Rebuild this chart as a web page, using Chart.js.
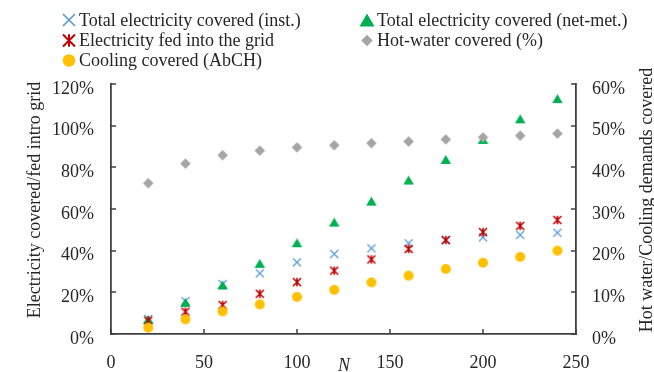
<!DOCTYPE html>
<html>
<head>
<meta charset="utf-8">
<script src="https://cdn.jsdelivr.net/npm/chart.js@4.4.1/dist/chart.umd.min.js"></script>
<style>
  html, body { margin: 0; padding: 0; background: #ffffff; }
  #wrap { width: 654px; height: 372px; }
</style>
</head>
<body>
<div id="wrap"><canvas id="chart" width="654" height="372"></canvas></div>
<script>
// Number of units N
const nValues = [20, 40, 60, 80, 100, 120, 140, 160, 180, 200, 220, 240];

// Left axis series (% of electricity)
const elecCoveredInst   = [7.2, 15.8, 24.0, 29.1, 34.4, 38.4, 41.1, 43.5, 45.0, 46.4, 47.6, 48.6];
const elecCoveredNetMet = [7.0, 15.2, 23.5, 33.9, 43.8, 53.7, 63.8, 73.9, 83.8, 93.4, 103.3, 113.0];
const elecFedToGrid     = [6.4, 10.7, 13.9, 19.3, 24.9, 30.4, 35.8, 40.8, 45.1, 48.9, 51.9, 54.7];

// Right axis series (% of thermal demand)
const hotWaterCovered = [36.2, 40.9, 42.9, 44.0, 44.8, 45.3, 45.8, 46.2, 46.7, 47.2, 47.6, 48.1];
const coolingCovered  = [1.5, 3.5, 5.4, 7.1, 8.9, 10.6, 12.4, 14.0, 15.6, 17.1, 18.5, 20.0];

// Series names
const seriesNames = [
  'Total electricity covered (inst.)',
  'Total electricity covered (net-met.)',
  'Electricity fed into the grid',
  'Hot-water covered (%)',
  'Cooling covered (AbCH)'
];

// Axis ticks and titles
const xTicks = [0, 50, 100, 150, 200, 250];
const leftTicks = [0, 20, 40, 60, 80, 100, 120];
const rightTicks = [0, 10, 20, 30, 40, 50, 60];
const xTitle = 'N';
const leftTitle = 'Electricity covered/fed intro grid';
const rightTitle = 'Hot water/Cooling demands covered';

const FONT = '"Liberation Serif", "Times New Roman", serif';
const TEXT = '#262626';
const AXIS = '#404040';

const COLORS = {
  inst: '#5B9BD5',
  net: '#00B050',
  fed: '#C00000',
  hot: '#A5A5A5',
  cool: '#FFC000'
};

// Marker shapes shared by plot and legend
function drawMarker(ctx, kind, cx, cy, size, color) {
  const h = size / 2;
  ctx.save();
  ctx.strokeStyle = color;
  ctx.fillStyle = color;
  ctx.lineCap = 'butt';
  ctx.beginPath();
  if (kind === 'x') {
    ctx.lineWidth = Math.max(1.3, size / 7);
    ctx.moveTo(cx - h, cy - h); ctx.lineTo(cx + h, cy + h);
    ctx.moveTo(cx + h, cy - h); ctx.lineTo(cx - h, cy + h);
    ctx.stroke();
  } else if (kind === 'star') {
    ctx.lineWidth = Math.max(1.6, size / 6);
    ctx.moveTo(cx - h, cy - h); ctx.lineTo(cx + h, cy + h);
    ctx.moveTo(cx + h, cy - h); ctx.lineTo(cx - h, cy + h);
    ctx.moveTo(cx, cy - h * 1.05); ctx.lineTo(cx, cy + h * 1.05);
    ctx.stroke();
  } else if (kind === 'tri') {
    const th = size * 0.88;
    ctx.moveTo(cx, cy - th / 2);
    ctx.lineTo(cx + h, cy + th / 2);
    ctx.lineTo(cx - h, cy + th / 2);
    ctx.closePath();
    ctx.fill();
  } else if (kind === 'diamond') {
    ctx.moveTo(cx, cy - h);
    ctx.lineTo(cx + h, cy);
    ctx.lineTo(cx, cy + h);
    ctx.lineTo(cx - h, cy);
    ctx.closePath();
    ctx.fill();
  } else if (kind === 'circle') {
    ctx.arc(cx, cy, h, 0, Math.PI * 2);
    ctx.fill();
  }
  ctx.restore();
}

function markerImage(kind, size, color) {
  const s = Math.ceil(size) + 6;
  const c = document.createElement('canvas');
  c.width = s; c.height = s;
  drawMarker(c.getContext('2d'), kind, s / 2, s / 2, size, color);
  return c;
}

function toPoints(ys) {
  return nValues.map((x, i) => ({ x: x, y: ys[i] }));
}

const seriesDefs = [
  { name: seriesNames[0], data: elecCoveredInst,   axis: 'y',  kind: 'x',       color: COLORS.inst, size: 8,    legendSize: 12 },
  { name: seriesNames[1], data: elecCoveredNetMet, axis: 'y',  kind: 'tri',     color: COLORS.net,  size: 10.5, legendSize: 15 },
  { name: seriesNames[2], data: elecFedToGrid,     axis: 'y',  kind: 'star',    color: COLORS.fed,  size: 8,    legendSize: 12 },
  { name: seriesNames[3], data: hotWaterCovered,   axis: 'y2', kind: 'diamond', color: COLORS.hot,  size: 10.5, legendSize: 11.5 },
  { name: seriesNames[4], data: coolingCovered,    axis: 'y2', kind: 'circle',  color: COLORS.cool, size: 10,   legendSize: 12.5 }
];

const datasets = seriesDefs.map((s, i) => ({
  label: s.name,
  data: toPoints(s.data),
  yAxisID: s.axis,
  showLine: false,
  pointStyle: markerImage(s.kind, s.size, s.color),
  pointRadius: 5,
  pointHoverRadius: 5,
  backgroundColor: s.color,
  borderColor: s.color,
  order: seriesDefs.length - i
}));

// Two-column legend above the plot
const legendLayout = [
  { col: 0, row: 0 }, { col: 1, row: 0 },
  { col: 0, row: 1 }, { col: 1, row: 1 },
  { col: 0, row: 2 }
];
const legendCols = [{ marker: 69, text: 79 }, { marker: 367, text: 377 }];
const legendRows = [20, 40.5, 60.5];

const legendPlugin = {
  id: 'columnLegend',
  afterDraw(chart) {
    const ctx = chart.ctx;
    ctx.save();
    ctx.font = '18px ' + FONT;
    ctx.fillStyle = TEXT;
    ctx.textBaseline = 'middle';
    ctx.textAlign = 'left';
    seriesDefs.forEach((s, i) => {
      const pos = legendLayout[i];
      const col = legendCols[pos.col];
      const y = legendRows[pos.row];
      drawMarker(ctx, s.kind, col.marker, y, s.legendSize, s.color);
      ctx.fillStyle = TEXT;
      ctx.fillText(s.name, col.text, y + 1);
    });
    ctx.restore();
  }
};

// Inward-pointing tick marks and axis titles
const axisDecor = {
  id: 'axisDecor',
  beforeDatasetsDraw(chart) {
    const ctx = chart.ctx;
    const area = chart.chartArea;
    const len = 5;
    ctx.save();
    ctx.strokeStyle = AXIS;
    ctx.lineWidth = 1.5;
    ctx.beginPath();
    const xs = chart.scales.x;
    xTicks.forEach(v => {
      const px = Math.round(xs.getPixelForValue(v));
      ctx.moveTo(px, area.bottom); ctx.lineTo(px, area.bottom - len);
    });
    const yl = chart.scales.y;
    leftTicks.forEach(v => {
      const py = Math.round(yl.getPixelForValue(v));
      ctx.moveTo(area.left, py); ctx.lineTo(area.left + len, py);
    });
    const yr = chart.scales.y2;
    rightTicks.forEach(v => {
      const py = Math.round(yr.getPixelForValue(v));
      ctx.moveTo(area.right, py); ctx.lineTo(area.right - len, py);
    });
    ctx.stroke();
    ctx.restore();
  },
  afterDraw(chart) {
    const ctx = chart.ctx;
    const area = chart.chartArea;
    const midY = (area.top + area.bottom) / 2 - 9;
    ctx.save();
    ctx.fillStyle = TEXT;
    ctx.textAlign = 'center';
    ctx.textBaseline = 'middle';
    ctx.font = '18px ' + FONT;
    ctx.save();
    ctx.translate(35, midY);
    ctx.rotate(-Math.PI / 2);
    ctx.fillText(leftTitle, 0, 0);
    ctx.restore();
    ctx.save();
    ctx.translate(647, midY);
    ctx.rotate(-Math.PI / 2);
    ctx.fillText(rightTitle, 0, 0);
    ctx.restore();
    ctx.font = 'italic 18px ' + FONT;
    ctx.fillText(xTitle, (area.left + area.right) / 2 + 0.5, 366);
    ctx.restore();
  }
};

const tickFont = { family: FONT, size: 18 };
const gridOpts = { display: true, drawOnChartArea: false, drawTicks: false };
const borderOpts = { display: true, color: AXIS, width: 1.8 };

new Chart(document.getElementById('chart'), {
  type: 'scatter',
  data: { datasets: datasets },
  options: {
    responsive: false,
    devicePixelRatio: 1,
    animation: false,
    events: [],
    layout: { padding: { top: 84, left: 0, right: 0, bottom: 0 } },
    plugins: {
      legend: { display: false },
      tooltip: { enabled: false }
    },
    scales: {
      x: {
        type: 'linear',
        min: xTicks[0],
        max: xTicks[xTicks.length - 1],
        afterBuildTicks(scale) { scale.ticks = xTicks.map(v => ({ value: v })); },
        ticks: { font: tickFont, color: TEXT, padding: 18, maxRotation: 0 },
        grid: gridOpts,
        border: borderOpts,
        afterFit(scale) { scale.height = 38; }
      },
      y: {
        type: 'linear',
        position: 'left',
        min: leftTicks[0],
        max: leftTicks[leftTicks.length - 1],
        afterBuildTicks(scale) { scale.ticks = leftTicks.map(v => ({ value: v })); },
        ticks: { font: tickFont, color: TEXT, padding: 17, labelOffset: 5, callback: v => v + '%' },
        grid: gridOpts,
        border: borderOpts,
        afterFit(scale) { scale.width = 111; }
      },
      y2: {
        type: 'linear',
        position: 'right',
        min: rightTicks[0],
        max: rightTicks[rightTicks.length - 1],
        afterBuildTicks(scale) { scale.ticks = rightTicks.map(v => ({ value: v })); },
        ticks: { font: tickFont, color: TEXT, padding: 16, labelOffset: 5, callback: v => v + '%' },
        grid: gridOpts,
        border: borderOpts,
        afterFit(scale) { scale.width = 78; }
      }
    }
  },
  plugins: [legendPlugin, axisDecor]
});
</script>
</body>
</html>
